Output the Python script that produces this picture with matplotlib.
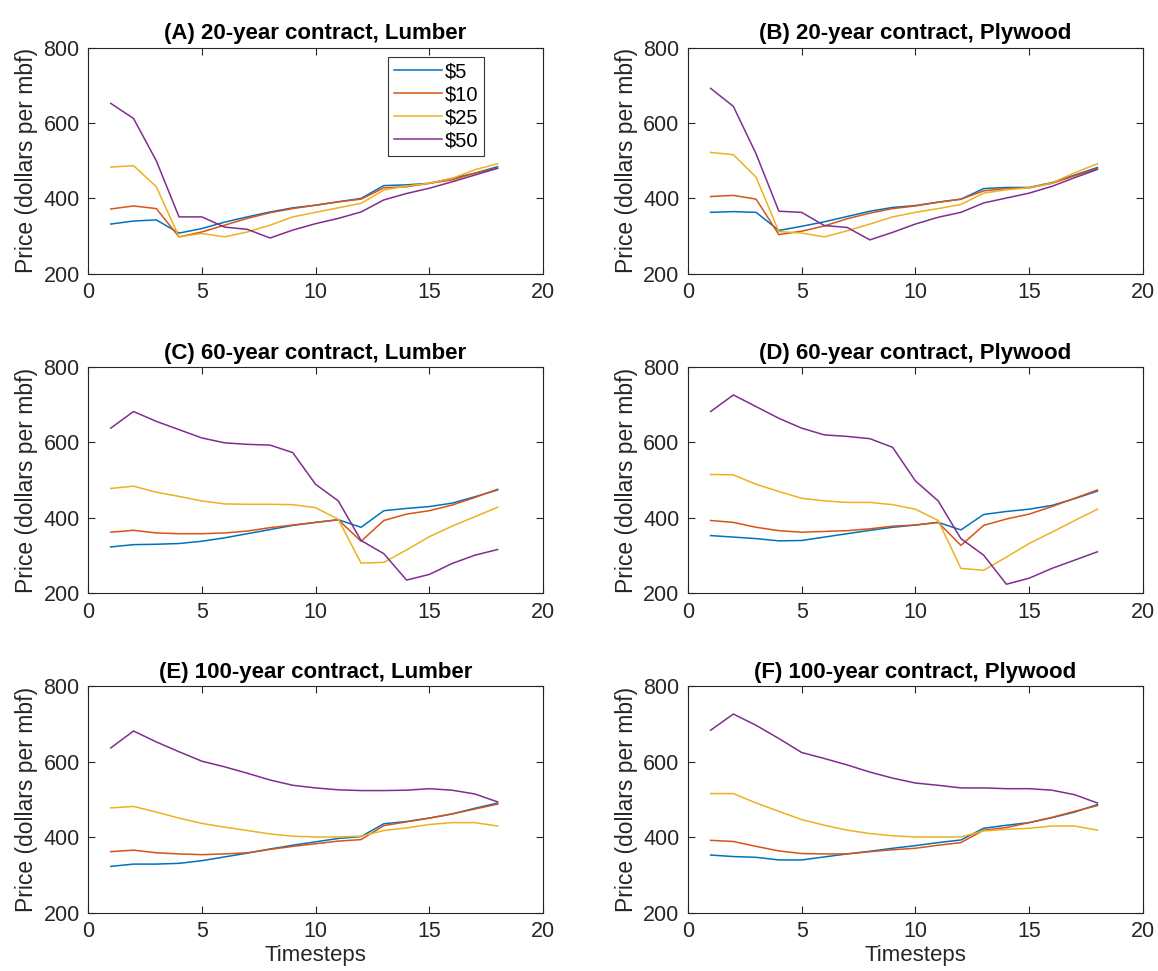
import matplotlib
matplotlib.use("Agg")
import matplotlib.pyplot as plt

plt.rcParams['font.family'] = ['Liberation Sans', 'DejaVu Sans']

steps = list(range(1, 19))
labels = ['$5', '$10', '$25', '$50']
colors = ['#0072bd', '#d95319', '#edb120', '#7e2f8e']
titles = ['(A) 20-year contract, Lumber', '(B) 20-year contract, Plywood',
          '(C) 60-year contract, Lumber', '(D) 60-year contract, Plywood',
          '(E) 100-year contract, Lumber', '(F) 100-year contract, Plywood']

# ------- price series, one list per tax level ------- #
a_5 = [332, 340, 343, 308, 320, 337, 351, 364, 375, 382, 391, 400, 434, 436, 440, 453, 467, 484]
a_10 = [372, 380, 373, 298, 311, 329, 347, 362, 373, 382, 391, 398, 428, 431, 440, 449, 467, 480]
a_25 = [483, 487, 431, 298, 307, 298, 311, 329, 351, 363, 375, 387, 422, 433, 440, 453, 476, 492]
a_50 = [652, 612, 500, 351, 351, 324, 318, 295, 316, 333, 347, 364, 396, 413, 427, 444, 462, 480]

b_5 = [363, 365, 363, 315, 326, 338, 352, 366, 376, 381, 390, 398, 426, 429, 429, 442, 462, 482]
b_10 = [405, 408, 398, 304, 313, 327, 346, 361, 373, 380, 390, 398, 420, 426, 428, 440, 460, 479]
b_25 = [522, 516, 456, 312, 308, 298, 314, 332, 351, 363, 373, 384, 414, 423, 428, 441, 468, 492]
b_50 = [692, 644, 518, 366, 363, 328, 323, 290, 310, 332, 350, 363, 388, 401, 414, 432, 455, 477]

c_5 = [323, 329, 330, 332, 338, 347, 358, 369, 380, 388, 395, 375, 419, 425, 430, 439, 456, 474]
c_10 = [362, 367, 360, 358, 358, 360, 365, 374, 381, 388, 395, 338, 393, 410, 419, 434, 454, 476]
c_25 = [478, 484, 468, 457, 445, 437, 436, 436, 435, 427, 396, 280, 282, 315, 350, 378, 403, 428]
c_50 = [638, 682, 656, 634, 612, 599, 595, 593, 573, 489, 445, 340, 305, 235, 250, 279, 301, 316]

d_5 = [353, 349, 345, 339, 340, 349, 358, 367, 375, 381, 388, 368, 409, 417, 423, 433, 451, 471]
d_10 = [393, 388, 375, 366, 362, 364, 366, 371, 378, 381, 388, 327, 380, 397, 410, 430, 452, 474]
d_25 = [515, 514, 489, 470, 452, 445, 441, 441, 435, 423, 393, 266, 261, 296, 332, 362, 393, 423]
d_50 = [682, 726, 695, 664, 638, 620, 616, 610, 587, 498, 445, 345, 301, 224, 240, 266, 288, 310]

e_5 = [323, 329, 329, 331, 338, 348, 358, 369, 379, 388, 397, 402, 436, 442, 451, 462, 477, 491]
e_10 = [362, 366, 359, 356, 354, 356, 359, 368, 376, 383, 390, 394, 431, 441, 451, 462, 475, 488]
e_25 = [478, 482, 467, 451, 437, 427, 418, 409, 403, 401, 401, 403, 418, 425, 434, 439, 439, 430]
e_50 = [637, 682, 653, 627, 602, 587, 570, 552, 538, 531, 526, 524, 524, 525, 529, 525, 515, 494]

f_5 = [353, 349, 347, 340, 340, 348, 356, 363, 371, 378, 386, 393, 424, 432, 439, 452, 467, 487]
f_10 = [392, 389, 376, 364, 357, 356, 356, 362, 367, 371, 379, 386, 419, 426, 439, 453, 469, 484]
f_25 = [516, 516, 491, 469, 447, 432, 419, 410, 404, 401, 401, 401, 417, 421, 424, 430, 430, 419]
f_50 = [684, 727, 697, 662, 625, 609, 592, 573, 557, 544, 538, 531, 531, 529, 529, 525, 513, 491]

panels = [[a_5, a_10, a_25, a_50], [b_5, b_10, b_25, b_50],
          [c_5, c_10, c_25, c_50], [d_5, d_10, d_25, d_50],
          [e_5, e_10, e_25, e_50], [f_5, f_10, f_25, f_50]]

# ------- figure and axes placement ------- #
fig = plt.figure(figsize=(11.58, 9.71), dpi=100)
lefts = [0.076, 0.594]
bottoms = [0.718, 0.389, 0.060]
w, h = 0.393, 0.233
ink = '#262626'

for i, series in enumerate(panels):
    ax = fig.add_axes([lefts[i % 2], bottoms[i // 2], w, h])
    for vals, c, lab in zip(series, colors, labels):
        ax.plot(steps, vals, color=c, linewidth=1.1, label=lab)
    ax.set_xlim(0, 20)
    ax.set_ylim(200, 800)
    ax.set_xticks([0, 5, 10, 15, 20])
    ax.set_yticks([200, 400, 600, 800])
    ax.tick_params(direction='in', top=True, right=True, labelsize=15.5,
                   colors=ink, length=5, width=0.8, pad=6)
    for s in ax.spines.values():
        s.set_color(ink)
        s.set_linewidth(0.8)
    ax.set_title(titles[i], fontsize=16, fontweight='bold', color='black', pad=6)
    ax.set_ylabel('Price (dollars per mbf)', fontsize=16.5, color=ink, labelpad=4)
    if i >= 4:
        ax.set_xlabel('Timesteps', fontsize=16, color=ink, labelpad=2)
    if i == 0:
        leg = ax.legend(loc='upper left', bbox_to_anchor=(0.659, 0.96), fontsize=14.5,
                        frameon=True, fancybox=False, handlelength=2.4,
                        borderpad=0.28, labelspacing=0.2, handletextpad=0.15,
                        borderaxespad=0)
        leg.get_frame().set_edgecolor('black')
        leg.get_frame().set_linewidth(0.8)

fig.savefig('out.png', dpi=100)
